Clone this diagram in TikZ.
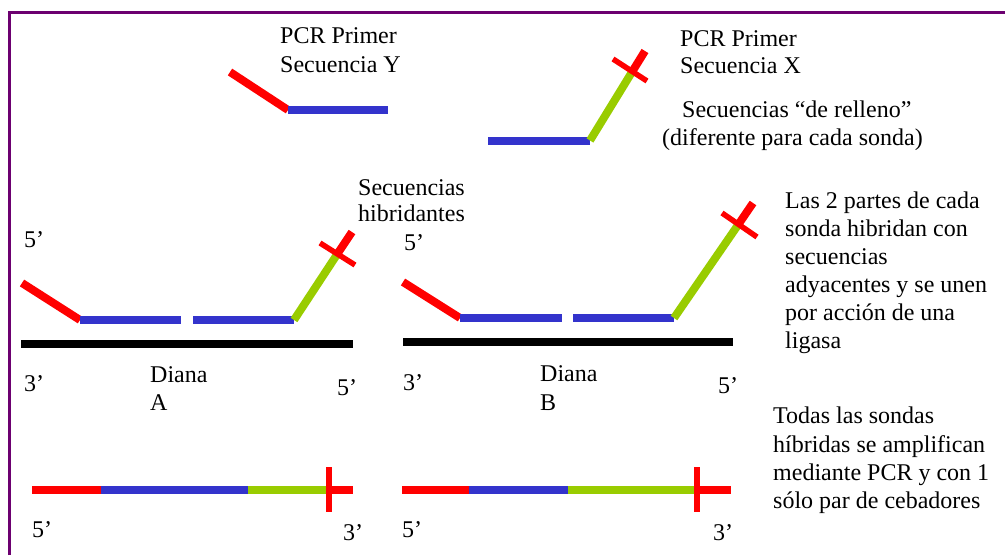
\documentclass[tikz,border=0pt]{standalone}
\usepackage{fontspec}
\setmainfont{Liberation Serif}
\definecolor{dred}{RGB}{255,0,0}
\definecolor{dblue}{RGB}{51,51,204}
\definecolor{dgreen}{RGB}{153,204,0}
\definecolor{frame}{RGB}{108,0,112}
\tikzset{
  seg/.style={line width=8pt, line cap=butt},
  rseg/.style={seg, draw=dred},
  bseg/.style={seg, draw=dblue},
  gseg/.style={seg, draw=dgreen},
  kseg/.style={seg, draw=black},
  xbar/.style={line width=5.5pt, draw=dred, line cap=butt},
  lbl/.style={anchor=base west, inner sep=0pt, font=\fontsize{24}{28}\selectfont},
}
\begin{document}
\begin{tikzpicture}[x=1pt,y=-1pt]
\useasboundingbox (0,0) rectangle (1005,555);
% frame
\draw[frame, line width=3.5pt] (9.5,555) -- (9.5,12.5) -- (1005,12.5);

% ---- primer Y ----
\coordinate (y1) at (230,72);
\coordinate (y2) at (288,110);
\coordinate (y3) at (388,110);
\draw[rseg] (y1) -- (y2);
\draw[bseg] (y2) -- (y3);
\node[lbl] (tY1) at (280,43) {PCR Primer};
\node[lbl] (tY2) at (280,72) {Secuencia Y};

% ---- primer X ----
\coordinate (x1) at (488,140.5);
\coordinate (x2) at (590,140.5);
\coordinate (x3) at (632,72);
\coordinate (x4) at (645,51);
\coordinate (xc1) at (613,59);
\coordinate (xc2) at (647,81);
\draw[bseg] (x1) -- (x2);
\draw[gseg] (x2) -- (x3);
\draw[rseg] (x3) -- (x4);
\draw[xbar] (xc1) -- (xc2);
\node[lbl] (tX1) at (680,46) {PCR Primer};
\node[lbl] (tX2) at (680,73) {Secuencia X};
\node[lbl] (tR1) at (682,117) {Secuencias “de relleno”};
\node[lbl] (tR2) at (662,145) {(diferente para cada sonda)};

% ---- probe on target A ----
\coordinate (a1) at (22,283);
\coordinate (a2) at (80,320);
\coordinate (a3) at (181,320);
\coordinate (a4) at (193,320);
\coordinate (a5) at (294,320);
\coordinate (a6) at (338,253);
\coordinate (a7) at (352,232);
\coordinate (ac1) at (320,243);
\coordinate (ac2) at (355,265);
\coordinate (at1) at (21,344);
\coordinate (at2) at (353,344);
\draw[rseg] (a1) -- (a2);
\draw[bseg] (a2) -- (a3);
\draw[bseg] (a4) -- (a5);
\draw[gseg] (a5) -- (a6);
\draw[rseg] (a6) -- (a7);
\draw[xbar] (ac1) -- (ac2);
\draw[kseg] (at1) -- (at2);
\node[lbl] (tH1) at (358,195) {Secuencias};
\node[lbl] (tH2) at (358,221) {hibridantes};
\node[lbl] (tA5) at (24,247) {5’};
\node[lbl] (tA3) at (24,391) {3’};
\node[lbl] (tAD) at (150,382) {Diana};
\node[lbl] (tAA) at (150,410) {A};
\node[lbl] (tA5b) at (337,395) {5’};

% ---- probe on target B ----
\coordinate (b1) at (403,282);
\coordinate (b2) at (460,318);
\coordinate (b3) at (562,318);
\coordinate (b4) at (573,318);
\coordinate (b5) at (674,318);
\coordinate (b6) at (738,225);
\coordinate (b7) at (753,203);
\coordinate (bc1) at (722,213);
\coordinate (bc2) at (757,237);
\coordinate (bt1) at (403,342);
\coordinate (bt2) at (733,342);
\draw[rseg] (b1) -- (b2);
\draw[bseg] (b2) -- (b3);
\draw[bseg] (b4) -- (b5);
\draw[gseg] (b5) -- (b6);
\draw[rseg] (b6) -- (b7);
\draw[xbar] (bc1) -- (bc2);
\draw[kseg] (bt1) -- (bt2);
\node[lbl] (tB5) at (404,250) {5’};
\node[lbl] (tB3) at (403,390) {3’};
\node[lbl] (tBD) at (540,381) {Diana};
\node[lbl] (tBB) at (540,410) {B};
\node[lbl] (tB5b) at (718,393) {5’};

% ---- right explanation ----
\node[lbl] (e1) at (785,208) {Las 2 partes de cada};
\node[lbl] (e2) at (785,236) {sonda hibridan con};
\node[lbl] (e3) at (785,264) {secuencias};
\node[lbl] (e4) at (785,292) {adyacentes y se unen};
\node[lbl] (e5) at (785,320) {por acción de una};
\node[lbl] (e6) at (785,348) {ligasa};

% ---- amplified products ----
\coordinate (p1) at (32,489.5);
\coordinate (p2) at (101,489.5);
\coordinate (p3) at (248,489.5);
\coordinate (p4) at (328,489.5);
\coordinate (p5) at (353,489.5);
\coordinate (pv1) at (329,467);
\coordinate (pv2) at (329,512);
\draw[rseg] (p1) -- (p2);
\draw[bseg] (p2) -- (p3);
\draw[gseg] (p3) -- (p4);
\draw[rseg] (p4) -- (p5);
\draw[xbar] (pv1) -- (pv2);
\node[lbl] (tP5) at (32,537) {5’};
\node[lbl] (tP3) at (343,540) {3’};

\coordinate (q1) at (402,489.5);
\coordinate (q2) at (469,489.5);
\coordinate (q3) at (568,489.5);
\coordinate (q4) at (697,489.5);
\coordinate (q5) at (731,489.5);
\coordinate (qv1) at (697,467);
\coordinate (qv2) at (697,512);
\draw[rseg] (q1) -- (q2);
\draw[bseg] (q2) -- (q3);
\draw[gseg] (q3) -- (q4);
\draw[rseg] (q4) -- (q5);
\draw[xbar] (qv1) -- (qv2);
\node[lbl] (tQ5) at (402,537) {5’};
\node[lbl] (tQ3) at (713,540) {3’};

\node[lbl] (f1) at (773,423) {Todas las sondas};
\node[lbl] (f2) at (773,452) {híbridas se amplifican};
\node[lbl] (f3) at (773,480) {mediante PCR y con 1};
\node[lbl] (f4) at (773,508) {sólo par de cebadores};
\end{tikzpicture}
\end{document}
